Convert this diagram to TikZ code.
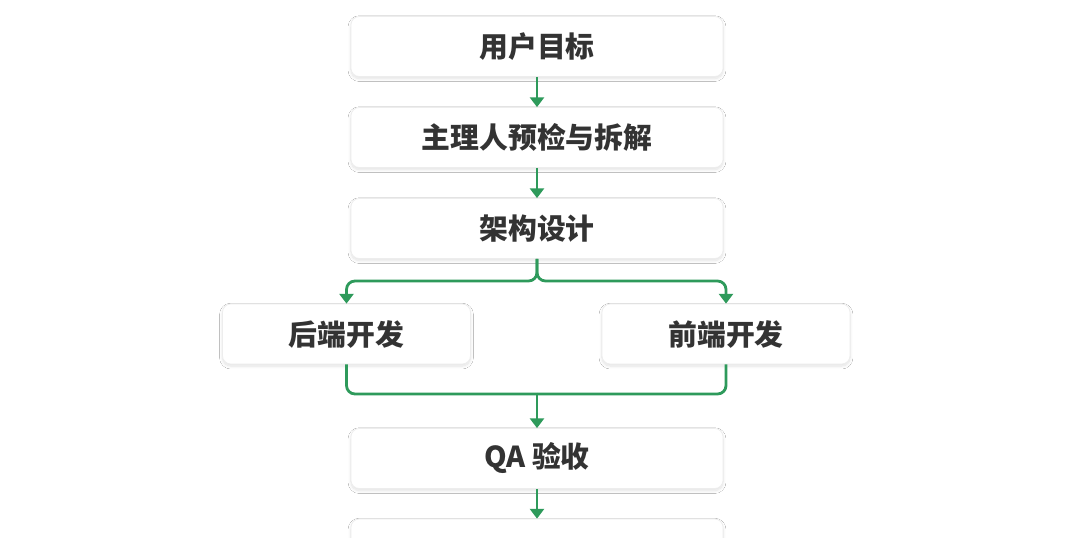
\documentclass[tikz,border=0pt]{standalone}
\usepackage{fontspec}
\setmainfont{Noto Sans CJK SC}
\usetikzlibrary{positioning,arrows.meta,shadows.blur}
\definecolor{flowgreen}{HTML}{2E9A5B}
\definecolor{boxline}{HTML}{EDEDED}
\definecolor{txt}{HTML}{333333}

\begin{document}
\begin{tikzpicture}[x=0.025cm, y=-0.025cm]
		\fill[white] (0,0) rectangle (1080,538);
		\useasboundingbox (0,0) rectangle (1080,538);
		\begin{scope}[every node/.style={draw=boxline, fill=white, rounded corners=6pt, line width=0.5pt,
				blur shadow={shadow blur steps=10, shadow blur radius=2pt, shadow xshift=0pt, shadow yshift=-1.5pt, shadow opacity=12},
				minimum width=9.3cm, minimum height=1.5cm, text=txt,
				font=\fontsize{20.5}{24}\selectfont\bfseries}]
			\node (goal) at (537,46.5) {用户目标};
			\node (split) at (537,137.5) {主理人预检与拆解};
			\node (arch) at (537,228.5) {架构设计};
			\node[minimum width=6.2cm] (backend) at (346.5,334) {后端开发};
			\node[minimum width=6.2cm] (frontend) at (726,334) {前端开发};
			\node (qa) at (537,458.5) {QA 验收};
			\node (release) at (537,549) {};
		\end{scope}
		\coordinate (fork) at (537,281);
		\coordinate (join) at (537,394);
		\begin{scope}[every path/.style={draw=flowgreen, line width=2pt, rounded corners=6pt},
				arr/.style={-{Triangle[width=10pt,length=7pt]}}]
			\path[arr] (goal) -- (split);
			\path[arr] (split) -- (arch);
			\path[arr] (arch) -- (fork) -| (backend);
			\path[arr] (arch) -- (fork) -| (frontend);
			\path (backend) |- (join);
			\path (frontend) |- (join);
			\path[arr] (join) -- (qa);
			\path[arr] (qa) -- (release);
		\end{scope}
	\end{tikzpicture}
\end{document}
